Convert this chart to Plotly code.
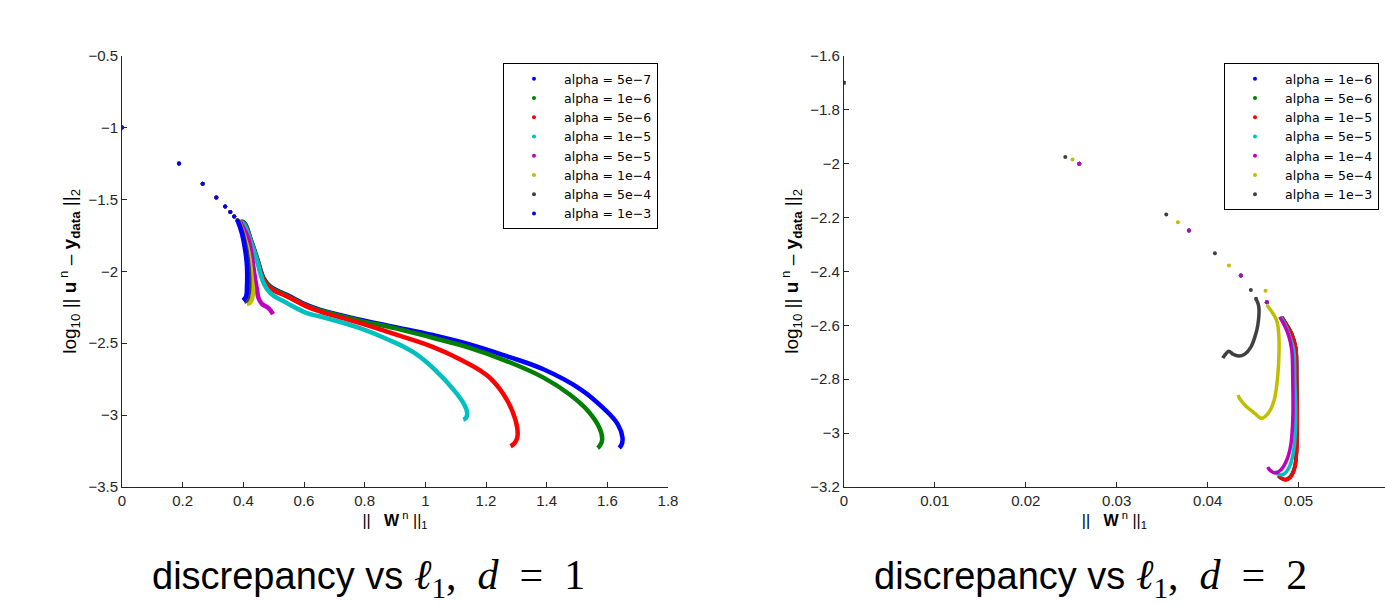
import plotly.graph_objects as go

# ---- d = 1 (left panel) ----
alphas_d1 = ["5e-7", "1e-6", "5e-6", "1e-5", "5e-5", "1e-4", "5e-4", "1e-3"]
colors_d1 = ["#0000FF", "#007F00", "#FF0000", "#00BFBF", "#BF00BF", "#BFBF00", "#404040", "#0000FF"]

start_x_d1 = [0.0, 0.188, 0.266, 0.311, 0.340, 0.357, 0.370, 0.381]
start_y_d1 = [-1.0, -1.25, -1.391, -1.486, -1.549, -1.588, -1.618, -1.646]

path_x_d1 = {
    "5e-7": [0.390, 0.402, 0.424, 0.446, 0.468, 0.490, 0.545, 0.610, 0.654, 0.780, 0.902, 1.024, 1.146,
             1.268, 1.391, 1.513, 1.586, 1.635, 1.650, 1.647, 1.639],
    "1e-6": [0.390, 0.402, 0.424, 0.446, 0.468, 0.490, 0.545, 0.610, 0.654, 0.780, 0.902, 1.024, 1.146,
             1.268, 1.391, 1.476, 1.537, 1.574, 1.583, 1.576, 1.568],
    "5e-6": [0.390, 0.401, 0.423, 0.445, 0.467, 0.489, 0.544, 0.610, 0.654, 0.780, 0.902, 1.024, 1.122,
             1.207, 1.256, 1.287, 1.303, 1.303, 1.293, 1.281],
    "1e-5": [0.390, 0.401, 0.423, 0.445, 0.467, 0.489, 0.544, 0.610, 0.654, 0.780, 0.877, 0.963, 1.036,
             1.097, 1.128, 1.138, 1.134, 1.125],
    "5e-5": [0.388, 0.405, 0.417, 0.428, 0.436, 0.445, 0.450, 0.461, 0.483, 0.498],
    "1e-4": [0.385, 0.402, 0.417, 0.428, 0.432, 0.423, 0.412],
    "5e-4": [0.383, 0.398, 0.410, 0.417, 0.419, 0.412, 0.403],
    "1e-3": [0.381, 0.395, 0.406, 0.412, 0.412, 0.409, 0.399],
}
path_y_d1 = {
    "5e-7": [-1.658, -1.660, -1.776, -1.915, -2.053, -2.108, -2.165, -2.235, -2.268, -2.334, -2.388, -2.443,
             -2.508, -2.590, -2.683, -2.822, -2.950, -3.066, -3.158, -3.205, -3.228],
    "1e-6": [-1.658, -1.662, -1.778, -1.918, -2.056, -2.112, -2.170, -2.240, -2.272, -2.341, -2.397, -2.462,
             -2.532, -2.624, -2.741, -2.857, -2.973, -3.089, -3.170, -3.210, -3.228],
    "5e-6": [-1.658, -1.664, -1.780, -1.920, -2.059, -2.117, -2.175, -2.245, -2.280, -2.357, -2.439, -2.525,
             -2.620, -2.730, -2.850, -2.973, -3.089, -3.158, -3.198, -3.217],
    "1e-5": [-1.658, -1.670, -1.785, -1.925, -2.082, -2.151, -2.221, -2.291, -2.314, -2.392, -2.474, -2.566,
             -2.694, -2.833, -2.926, -2.984, -3.019, -3.031],
    "5e-5": [-1.655, -1.720, -1.780, -1.897, -2.012, -2.128, -2.186, -2.226, -2.256, -2.297],
    "1e-4": [-1.652, -1.750, -1.870, -2.059, -2.151, -2.217, -2.226],
    "5e-4": [-1.650, -1.740, -1.855, -1.966, -2.128, -2.198, -2.212],
    "1e-3": [-1.646, -1.734, -1.850, -1.966, -2.105, -2.175, -2.203],
}

# ---- d = 2 (right panel) ----
alphas_d2 = ["1e-6", "5e-6", "1e-5", "5e-5", "1e-4", "5e-4", "1e-3"]
colors_d2 = ["#0000FF", "#007F00", "#FF0000", "#00BFBF", "#BF00BF", "#BFBF00", "#404040"]

start_x_d2 = {
    "group": [0.0, 0.02589, 0.03795, 0.04365, 0.04651],
    "5e-4": [0.0, 0.02514, 0.03673, 0.04234, 0.04637],
    "1e-3": [0.0, 0.02435, 0.03545, 0.04080, 0.04475, 0.04532],
}
start_y_d2 = {
    "group": [-1.70, -2.0004, -2.248, -2.4156, -2.515],
    "5e-4": [-1.70, -1.9855, -2.2175, -2.3785, -2.4716],
    "1e-3": [-1.70, -1.9755, -2.189, -2.333, -2.469, -2.502],
}

path_x_d2 = {
    "1e-6": [0.04815, 0.04870, 0.04925, 0.04969, 0.04980, 0.04985, 0.04978, 0.04955, 0.04910, 0.04855, 0.04800, 0.04780],
    "5e-6": [0.04815, 0.04870, 0.04925, 0.04969, 0.04980, 0.04985, 0.04979, 0.04956, 0.04912, 0.04857, 0.04802, 0.04781],
    "1e-5": [0.04815, 0.04870, 0.04925, 0.04969, 0.04980, 0.04986, 0.04980, 0.04958, 0.04914, 0.04859, 0.04804, 0.04782],
    "5e-5": [0.04804, 0.04859, 0.04903, 0.04947, 0.04958, 0.04969, 0.04947, 0.04903, 0.04837, 0.04771, 0.04738],
    "1e-4": [0.04793, 0.04848, 0.04892, 0.04925, 0.04936, 0.04936, 0.04914, 0.04870, 0.04804, 0.04738, 0.04683, 0.04661],
    "5e-4": [0.04651, 0.04757, 0.04782, 0.04785, 0.04770, 0.04731, 0.04665, 0.04592, 0.04519, 0.04409, 0.04346, 0.04335],
    "1e-3": [0.04532, 0.04563, 0.04552, 0.04519, 0.04475, 0.04409, 0.04343, 0.04277, 0.04233, 0.04189, 0.04167],
}
path_y_d2 = {
    "1e-6": [-2.569, -2.599, -2.632, -2.684, -2.803, -2.951, -3.062, -3.128, -3.161, -3.172, -3.165, -3.158],
    "5e-6": [-2.569, -2.599, -2.632, -2.684, -2.803, -2.951, -3.062, -3.129, -3.162, -3.173, -3.166, -3.159],
    "1e-5": [-2.569, -2.599, -2.633, -2.685, -2.803, -2.952, -3.063, -3.130, -3.163, -3.174, -3.167, -3.160],
    "5e-5": [-2.569, -2.603, -2.640, -2.692, -2.803, -2.952, -3.063, -3.122, -3.152, -3.152, -3.141],
    "1e-4": [-2.569, -2.603, -2.640, -2.692, -2.803, -2.952, -3.045, -3.100, -3.137, -3.148, -3.137, -3.126],
    "5e-4": [-2.525, -2.581, -2.633, -2.700, -2.790, -2.878, -2.927, -2.945, -2.927, -2.896, -2.868, -2.859],
    "1e-3": [-2.502, -2.532, -2.599, -2.644, -2.681, -2.707, -2.714, -2.707, -2.696, -2.711, -2.722],
}

FONT = "Liberation Sans, Arial, sans-serif"
LEGFONT = "DejaVu Sans, sans-serif"
AXC = "#262626"
NB = "\u00a0"

fig = go.Figure()

for a, c in zip(alphas_d1, colors_d1):
    fig.add_trace(go.Scatter(
        x=path_x_d1[a], y=path_y_d1[a], mode="lines",
        line=dict(color=c, width=4.5, shape="spline", smoothing=1.2),
        showlegend=False, hoverinfo="skip", xaxis="x", yaxis="y"))
    fig.add_trace(go.Scatter(
        x=start_x_d1, y=start_y_d1, mode="markers",
        marker=dict(color=c, size=4),
        name=f"alpha = {a.replace('-', '−')}", legend="legend", xaxis="x", yaxis="y"))

for a, c in zip(alphas_d2, colors_d2):
    key = a if a in start_x_d2 else "group"
    fig.add_trace(go.Scatter(
        x=path_x_d2[a], y=path_y_d2[a], mode="lines",
        line=dict(color=c, width=3.5, shape="spline"),
        showlegend=False, hoverinfo="skip", xaxis="x2", yaxis="y2"))
    fig.add_trace(go.Scatter(
        x=start_x_d2[key], y=start_y_d2[key], mode="markers",
        marker=dict(color=c, size=4),
        name=f"alpha = {a.replace('-', '−')}", legend="legend2", xaxis="x2", yaxis="y2"))

axis_common = dict(
    showline=True, linecolor=AXC, linewidth=1, ticks="inside", ticklen=5,
    tickcolor=AXC, showgrid=False, zeroline=False, automargin=False,
    tickfont=dict(family=FONT, size=15, color=AXC),
)

ytitle = (f"log<sub>10</sub>{NB}|| <b>u</b><sup>{NB}n</sup>{NB}–{NB}"
          f"<b>y<sub>data</sub></b> ||<sub>2</sub>")
xtitle = f"||{NB}{NB}{NB}<b>W</b><sup>{NB}n</sup>{NB}||<sub>1</sub>"

y_dom = [1 - 487 / 604, 1 - 55.7 / 604]

legend_common = dict(
    bordercolor="black", borderwidth=1, bgcolor="white", itemwidth=50,
    font=dict(family=LEGFONT, size=12.5, color="black"), tracegroupgap=0,
)

fig.update_layout(
    width=1385, height=604,
    margin=dict(l=0, r=0, t=0, b=0),
    paper_bgcolor="white", plot_bgcolor="white",
    font=dict(family=FONT, color="black"),
    xaxis=dict(domain=[122 / 1385, 668 / 1385], range=[0, 1.8], dtick=0.2, anchor="y",
               title=dict(text=xtitle, font=dict(size=16), standoff=3), **axis_common),
    yaxis=dict(domain=y_dom, range=[-3.5, -0.5], dtick=0.5, anchor="x",
               title=dict(text=ytitle, font=dict(size=19), standoff=6), **axis_common),
    xaxis2=dict(domain=[843.8 / 1385, 1.0], range=[0, 0.0595], dtick=0.01, anchor="y2",
                title=dict(text=xtitle, font=dict(size=16), standoff=3), **axis_common),
    yaxis2=dict(domain=y_dom, range=[-3.2, -1.6], dtick=0.2, anchor="x2",
                title=dict(text=ytitle, font=dict(size=19), standoff=6), **axis_common),
    legend=dict(x=503 / 1385, xanchor="left", y=1 - 63 / 604, yanchor="top", **legend_common),
    legend2=dict(x=1224 / 1385, xanchor="left", y=1 - 63 / 604, yanchor="top", **legend_common),
    showlegend=True,
)

serif = "Liberation Serif, DejaVu Serif, serif"
for xl, d in [(150 / 1385, "1"), (872 / 1385, "2")]:
    fig.add_annotation(
        x=xl, y=1 - 578 / 604, xref="paper", yref="paper", showarrow=False,
        xanchor="left", yanchor="middle",
        text=(f'discrepancy vs <span style="font-family:{serif};font-size:42px">'
              f'<i>ℓ</i><sub>1</sub>,\u2002<i>d</i>\u2002=\u2002{d}</span>'),
        font=dict(family=FONT, size=38, color="black"))

fig.write_html("out.html", config={"displayModeBar": False},
               post_script="document.body.style.margin='0';")
